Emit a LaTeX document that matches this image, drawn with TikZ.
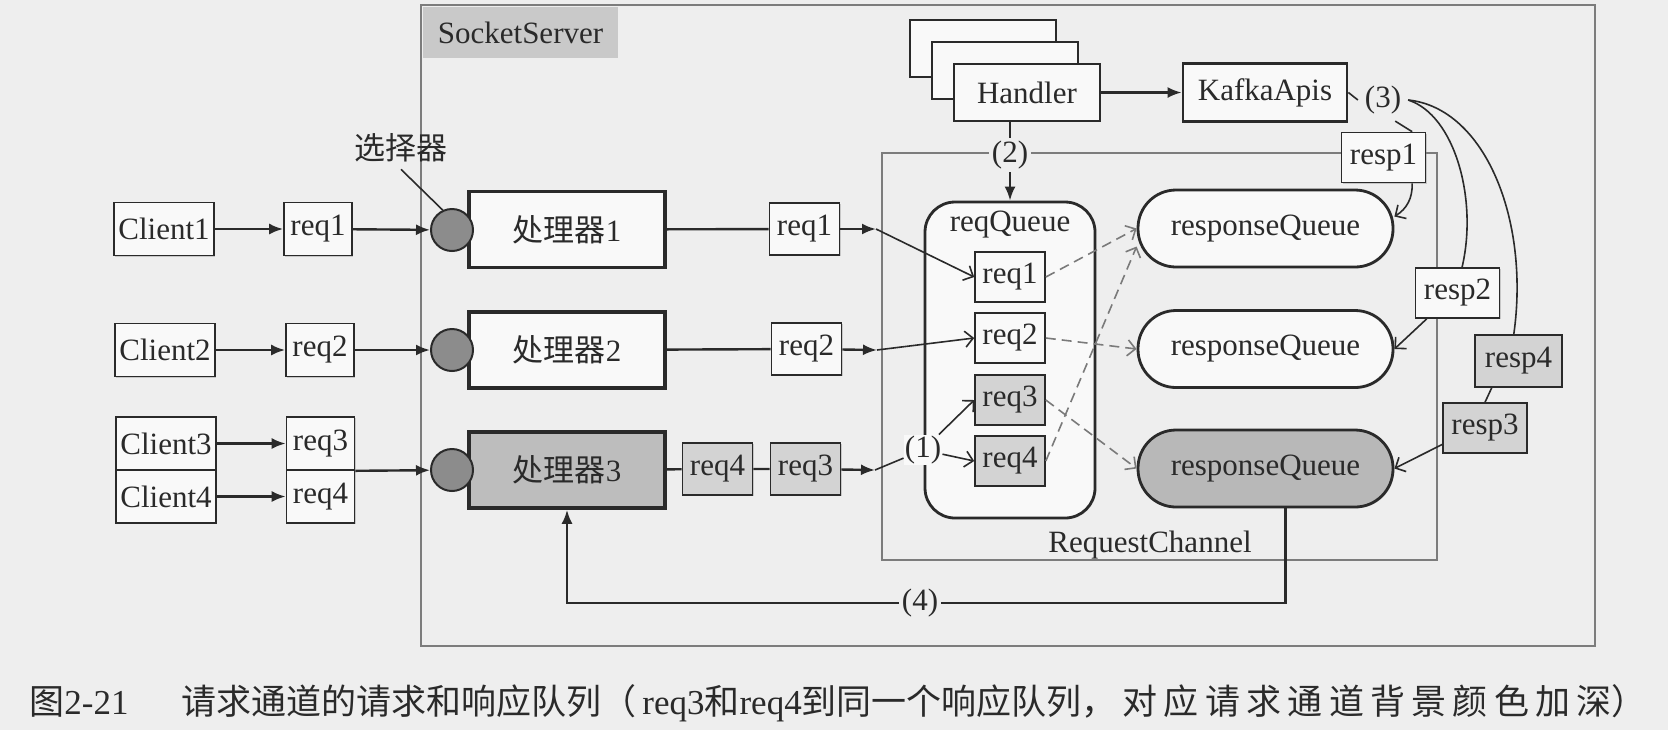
\documentclass[tikz,border=0pt]{standalone}
\usepackage{fontspec}
\setmainfont{Liberation Serif}
\newfontfamily\cjk{Noto Sans CJK SC}
\newfontfamily\cjkwide[LetterSpace=18]{Noto Sans CJK SC}
\usetikzlibrary{arrows.meta,shadows}
\definecolor{paper}{HTML}{EEEEEE}
\definecolor{boxfill}{HTML}{F9F9F9}
\definecolor{textdark}{HTML}{2A2A2A}
\definecolor{framegray}{HTML}{7C7C7C}
\definecolor{labelgray}{HTML}{C9C9C9}
\definecolor{selgray}{HTML}{8C8C8C}
\definecolor{procgray}{HTML}{BDBDBD}
\definecolor{itemgray}{HTML}{D3D3D3}
\definecolor{queuegray}{HTML}{B8B8B8}
\definecolor{dashgray}{HTML}{7A7A7A}

\begin{document}
\begin{tikzpicture}[x=0.5pt, y=-0.5pt,
    every node/.style={font=\fontsize{15.5}{18}\selectfont, text=textdark},
    boxshadow/.style={drop shadow={shadow xshift=0.6pt, shadow yshift=-0.6pt, opacity=0.35}},
    itembox/.style={draw=textdark, fill=boxfill, line width=0.8pt, inner sep=0pt,
        minimum width=35pt, minimum height=26pt, boxshadow},
    clientbox/.style={itembox, minimum width=50pt, minimum height=26.5pt},
    respbox/.style={itembox, minimum width=42pt, minimum height=25pt},
    procbox/.style={draw=textdark, fill=boxfill, line width=1.8pt, inner sep=0pt,
        minimum width=98pt, minimum height=38pt, boxshadow},
    apibox/.style={draw=textdark, fill=boxfill, line width=1.4pt, inner sep=0pt,
        minimum width=73pt, minimum height=28.5pt, boxshadow},
    queuebox/.style={draw=textdark, fill=boxfill, line width=1.4pt, inner sep=0pt,
        rounded corners=19pt, minimum width=127.5pt, minimum height=38.5pt, boxshadow},
    selector/.style={circle, draw=textdark, fill=selgray, line width=1pt,
        minimum size=21pt, inner sep=0pt},
    borderline/.style={draw=framegray, line width=0.7pt},
    tag/.style={fill=paper, inner sep=1.5pt},
    flow/.style={draw=textdark, line width=1.2pt},
    flowarrow/.style={flow, -{Latex[length=7pt, width=5.5pt]}},
    fineline/.style={draw=textdark, line width=0.8pt},
    finearrow/.style={fineline, -{Straight Barb[length=4pt, width=8pt]}},
    dashflow/.style={draw=dashgray, line width=0.8pt, dash pattern=on 5pt off 3pt,
        -{Straight Barb[length=4pt, width=8pt]}},
]

    % Page and frames
    \fill[paper] (0,0) rectangle (1668,730);
    \useasboundingbox (0,0) rectangle (1668,730);
    \draw[borderline] (421,5) rectangle (1595,646);
    \draw[borderline] (882,153) rectangle (1437,560);
    \node[fill=labelgray, minimum width=97.5pt, minimum height=25.5pt, inner sep=0pt] (sslabel) at (520.5,32.5) {SocketServer};
    \node (rclabel) at (1150,545) {RequestChannel};

    % Clients and their requests
    \node[clientbox] (client1) at (164,229) {Client1};
    \node[clientbox] (client2) at (165,350) {Client2};
    \node[clientbox] (client3) at (166,443.5) {Client3};
    \node[clientbox] (client4) at (166,496.5) {Client4};
    \node[itembox, minimum width=34pt, minimum height=26.5pt] (lreq1) at (318,229) {req1};
    \node[itembox, minimum width=34pt, minimum height=26.5pt] (lreq2) at (320,350) {req2};
    \node[itembox, minimum width=34pt, minimum height=26.5pt] (lreq3) at (320.5,443.5) {req3};
    \node[itembox, minimum width=34pt, minimum height=26.5pt] (lreq4) at (320.5,496.5) {req4};
    \draw[flowarrow] (client1) -- (lreq1);
    \draw[flowarrow] (client2) -- (lreq2);
    \draw[flowarrow] (client3) -- (lreq3);
    \draw[flowarrow] (client4) -- (lreq4);

    % Selectors and processors
    \node[procbox] (proc1) at (567,229.5) {{\cjk 处理器}1};
    \node[procbox] (proc2) at (567,350) {{\cjk 处理器}2};
    \node[procbox, fill=procgray] (proc3) at (567,470) {{\cjk 处理器}3};
    \node[selector] (sel1) at (452,230) {};
    \node[selector] (sel2) at (452,350) {};
    \node[selector] (sel3) at (452,470) {};
    \node (sellabel) at (401,148) {{\cjk 选择器}};
    \draw[fineline] (sellabel.south) -- (sel1.115);
    \draw[flowarrow] (lreq1) -- (sel1);
    \draw[flowarrow] (lreq2) -- (sel2);
    \draw[flowarrow] (lreq3.south east) -- (sel3);

    % Requests leaving the processors
    \node[itembox] (mreq1) at (804.5,229) {req1};
    \node[itembox] (mreq2) at (806.5,349) {req2};
    \node[itembox, fill=itemgray] (mreq4) at (717.5,469) {req4};
    \node[itembox, fill=itemgray] (mreq3) at (805.5,469) {req3};
    \coordinate (tip1) at (876,229);
    \coordinate (tip2) at (877,350);
    \coordinate (tip3) at (875,470);
    \draw[flow] (proc1) -- (mreq1);
    \draw[flowarrow] (mreq1) -- (tip1);
    \draw[flow] (proc2) -- (mreq2);
    \draw[flowarrow] (mreq2) -- (tip2);
    \draw[flow] (proc3) -- (mreq4) -- (mreq3);
    \draw[flowarrow] (mreq3) -- (tip3);

    % Request queue
    \node[queuebox, rounded corners=15pt, minimum width=85pt, minimum height=158pt] (reqq) at (1010,360) {};
    \node (reqqlabel) at (1010,225) {reqQueue};
    \node[itembox, minimum height=25pt] (qreq1) at (1010,277) {req1};
    \node[itembox, minimum height=25pt] (qreq2) at (1010,338) {req2};
    \node[itembox, minimum height=25pt, fill=itemgray] (qreq3) at (1010,400) {req3};
    \node[itembox, minimum height=25pt, fill=itemgray] (qreq4) at (1010,461) {req4};
    \node[tag, fill=boxfill, inner sep=0.5pt] (one) at (923,450) {(1)};
    \draw[finearrow] (tip1) -- (qreq1.west);
    \draw[finearrow] (tip2) -- (qreq2.west);
    \draw[fineline] (tip3) -- (one);
    \draw[finearrow] (one) -- (qreq3.west);
    \draw[finearrow] (one) -- (qreq4.west);

    % Handlers and KafkaApis
    \node[apibox] (handler3) at (983,48.5) {};
    \node[apibox] (handler2) at (1005,70.5) {};
    \node[apibox] (handler) at (1027,92.5) {Handler};
    \node[apibox, minimum width=82pt, minimum height=29pt] (kafka) at (1265,92.5) {KafkaApis};
    \draw[flowarrow] (handler) -- (kafka);
    \node[tag] (two) at (1010,155) {(2)};
    \draw[flow] (reqq.north |- handler.south) -- (two);
    \draw[flowarrow] (two) -- (reqq.north);

    % Response queues
    \node[queuebox] (rq1) at (1265.5,228.5) {responseQueue};
    \node[queuebox] (rq2) at (1265.5,349) {responseQueue};
    \node[queuebox, fill=queuegray] (rq3) at (1265.5,468.5) {responseQueue};
    \draw[dashflow] (qreq1.east) -- (rq1.west);
    \draw[dashflow] (qreq4.east) -- ([yshift=-9pt]rq1.west);
    \draw[dashflow] (qreq2.east) -- (rq2.west);
    \draw[dashflow] (qreq3.east) -- (rq3.west);

    % Responses
    \node (three) at (1383,100) {(3)};
    \node[respbox] (resp1) at (1383.5,157.5) {resp1};
    \node[respbox] (resp2) at (1457.5,293) {resp2};
    \node[respbox, fill=itemgray, minimum width=43.5pt, minimum height=26pt] (resp4) at (1518.5,361) {resp4};
    \node[respbox, fill=itemgray] (resp3) at (1485,428) {resp3};
    \draw[fineline] (kafka.east) -- (three.west);
    \draw[fineline] (three.-60) -- (resp1.42);
    \draw[finearrow] (resp1.-42) to[bend left=30] ([yshift=6pt]rq1.east);
    \draw[fineline] (three.east) .. controls (1455,115) and (1478,200) .. (resp2.80);
    \draw[fineline] (three.east) .. controls (1485,108) and (1530,220) .. (resp4.100);
    \draw[finearrow] (resp2.220) -- (rq2.east);
    \draw[fineline] (resp4.225) -- (resp3.north);
    \draw[finearrow] (resp3.201) -- (rq3.east);

    % Back to the processor
    \node[tag] (four) at (920,603) {(4)};
    \draw[flow] ([xshift=10pt]rq3.south) |- (four);
    \draw[flowarrow] (four) -| (proc3.south);

    % Caption
    \node[anchor=west, inner sep=0pt, font=\fontsize{17.5}{20}\selectfont] (caption) at (29,703)
        {{\cjk 图}2-21\hspace{26.5pt}{\cjk 请求通道的请求和响应队列（}\,req3{\cjk 和}req4{\cjk 到同一个响应队列，}\,{\cjkwide 对应请求通道背景颜色加深}{\cjk ）}};

\end{tikzpicture}
\end{document}
